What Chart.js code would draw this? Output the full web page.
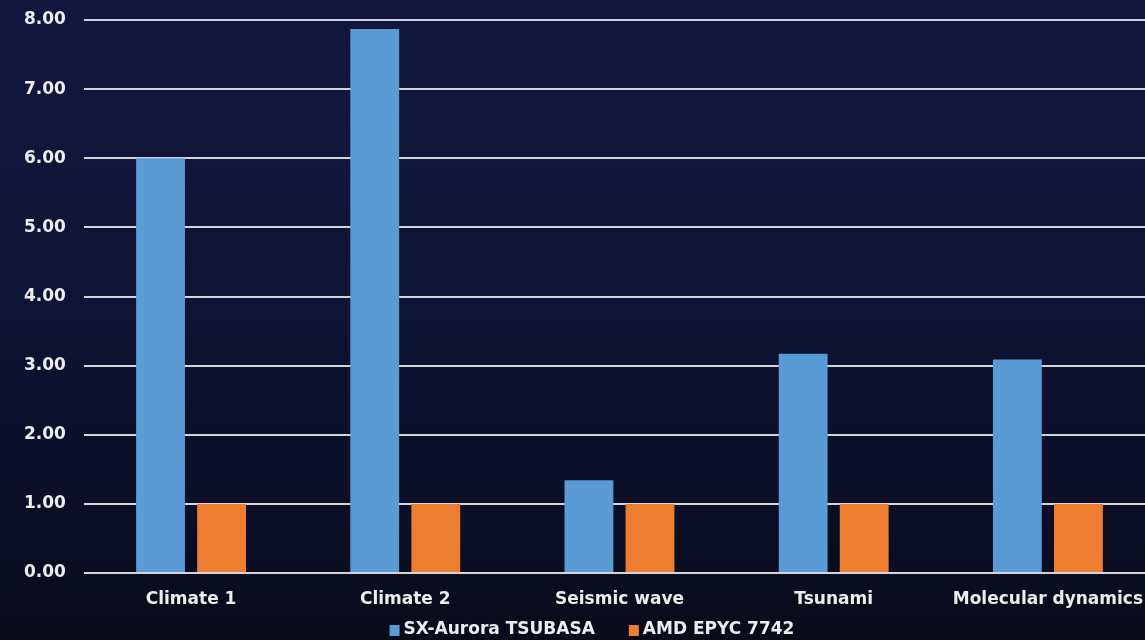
<!DOCTYPE html>
<html>
<head>
<meta charset="utf-8">
<script src="https://cdn.jsdelivr.net/npm/chart.js@4"></script>
<style>
  html, body { margin: 0; padding: 0; overflow: hidden; background: #0a0c1c; }
  #wrap { width: 1155px; height: 640px; }
</style>
</head>
<body>
<div id="wrap"><canvas id="chart" width="1155" height="640"></canvas></div>
<script>
// Chart data
const categories = ['Climate 1', 'Climate 2', 'Seismic wave', 'Tsunami', 'Molecular dynamics'];
const auroraValues = [6.00, 7.87, 1.34, 3.17, 3.09];
const epycValues = [1.00, 1.00, 1.00, 1.00, 1.00];
const seriesNames = ['SX-Aurora TSUBASA', 'AMD EPYC 7742'];

const textColor = '#ececec';
const fontFamily = '"DejaVu Sans", sans-serif';

// Navy gradient behind everything
const backgroundPlugin = {
  id: 'bgGradient',
  beforeDraw(chart) {
    const { ctx, width, height } = chart;
    const g = ctx.createLinearGradient(0, 0, 0, height);
    g.addColorStop(0, '#13173f');
    g.addColorStop(0.5, '#0f1334');
    g.addColorStop(1, '#090b1b');
    ctx.save();
    ctx.fillStyle = g;
    ctx.fillRect(0, 0, width, height);
    ctx.restore();
  }
};

// Compact legend under the axis labels (small square, tight text gap)
const bottomLegendPlugin = {
  id: 'bottomLegend',
  afterDraw(chart, args, opts) {
    const { ctx } = chart;
    const box = 10, gap = 4, itemGap = 34;
    ctx.save();
    ctx.font = `bold ${opts.fontSize}px ${fontFamily}`;
    ctx.textBaseline = 'middle';
    const items = chart.data.datasets.map(ds => ({
      text: ds.label,
      color: ds.backgroundColor,
      w: box + gap + ctx.measureText(ds.label).width
    }));
    const total = items.reduce((s, it) => s + it.w, 0) + itemGap * (items.length - 1);
    let x = opts.centerX - total / 2;
    const y = opts.y;
    items.forEach(it => {
      ctx.fillStyle = it.color;
      ctx.fillRect(x, y - box / 2, box, box + 1);
      ctx.fillStyle = textColor;
      ctx.fillText(it.text, x + box + gap, y);
      x += it.w + itemGap;
    });
    ctx.restore();
  }
};

new Chart(document.getElementById('chart'), {
  type: 'bar',
  data: {
    labels: categories,
    datasets: [
      { label: seriesNames[0], data: auroraValues, backgroundColor: '#5b9bd5' },
      { label: seriesNames[1], data: epycValues, backgroundColor: '#ed7d31' }
    ]
  },
  options: {
    responsive: false,
    animation: false,
    layout: { padding: { top: 20, bottom: 32, left: 6, right: 0 } },
    datasets: {
      bar: { categoryPercentage: 0.57, barPercentage: 0.8 }
    },
    scales: {
      x: {
        grid: { display: false },
        border: { display: false },
        ticks: {
          color: textColor,
          padding: 8,
          maxRotation: 0,
          font: { family: fontFamily, size: 17, weight: 'bold' }
        },
        afterFit: (s) => { s.height = 35; }
      },
      y: {
        min: 0,
        max: 8,
        grid: { color: '#d4d4d8', lineWidth: 2, drawTicks: false },
        border: { display: false },
        ticks: {
          stepSize: 1,
          color: textColor,
          padding: 18,
          font: { family: fontFamily, size: 17, weight: 'bold' },
          callback: (v) => Number(v).toFixed(2)
        },
        afterFit: (s) => { s.paddingTop = 0; s.paddingBottom = 0; }
      }
    },
    plugins: {
      legend: { display: false },
      tooltip: { enabled: false },
      bottomLegend: { centerX: 592, y: 630, fontSize: 17 }
    }
  },
  plugins: [backgroundPlugin, bottomLegendPlugin]
});
</script>
</body>
</html>
